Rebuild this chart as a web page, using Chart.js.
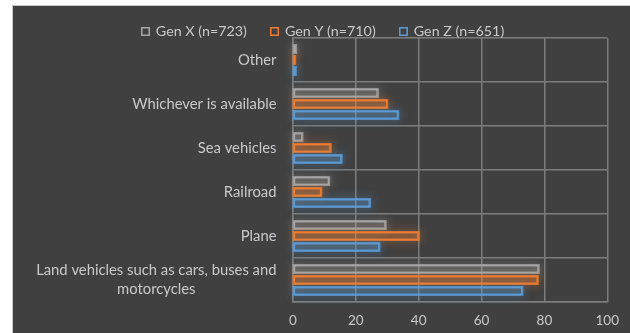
<!DOCTYPE html>
<html>
<head>
<meta charset="utf-8">
<script src="https://cdn.jsdelivr.net/npm/chart.js@4"></script>
<style>
  html, body { margin: 0; padding: 0; background: #ffffff; }
  #frame {
    position: absolute; left: 12px; top: 5px;
    width: 618px; height: 328px;
    background: #404040;
    border-left: 1px solid #c8c8c8; border-top: 1px solid #c8c8c8;
    box-sizing: border-box;
  }
  #chart { display: block; }
</style>
</head>
<body>
<div id="frame"><canvas id="chart" width="617" height="327"></canvas></div>
<script>
// Preferred mode of transport, by generation (percent of respondents)
const categories = [
  'Other',
  'Whichever is available',
  'Sea vehicles',
  'Railroad',
  'Plane',
  ['Land vehicles such as cars, buses and', 'motorcycles']
];
const seriesNames = ['Gen X (n=723)', 'Gen Y (n=710)', 'Gen Z (n=651)'];
const genX = [1, 27, 3, 11.5, 29.5, 78.2];
const genY = [0.7, 30, 12, 9, 40, 77.9];
const genZ = [0.9, 33.5, 15.5, 24.5, 27.5, 73];
const xTicks = [0, 20, 40, 60, 80, 100];

const colors = ['#a5a5a5', '#ed7d31', '#5b9bd5'];
const fills = ['rgba(165,165,165,0.16)', 'rgba(237,125,49,0.28)', 'rgba(91,155,213,0.22)'];
const textColor = '#c9c9c9';
const gridColor = '#7c7c7c';
const FONT = 'Lato, "Liberation Sans", sans-serif';

// soft glow behind each bar, using the bar elements laid out by the chart
const glowPlugin = {
  id: 'glow',
  beforeDatasetsDraw(chart) {
    const ctx = chart.ctx;
    chart.data.datasets.forEach((ds, di) => {
      const meta = chart.getDatasetMeta(di);
      meta.data.forEach(bar => {
        const p = bar.getProps(['x', 'y', 'base', 'height'], true);
        const left = Math.min(p.base, p.x), w = Math.abs(p.x - p.base);
        ctx.save();
        ctx.shadowColor = colors[di];
        ctx.shadowBlur = 8;
        ctx.strokeStyle = colors[di];
        ctx.globalAlpha = 0.8;
        ctx.lineWidth = 2;
        ctx.strokeRect(left, p.y - p.height / 2, w, p.height);
        ctx.restore();
      });
    });
  }
};

// category labels: right-aligned block, wrapped lines centred inside it
const catLabelPlugin = {
  id: 'catLabels',
  afterDraw(chart) {
    const ctx = chart.ctx;
    const ys = chart.scales.y;
    const right = chart.chartArea.left - 16.5;
    const lineH = 19;
    ctx.save();
    ctx.font = '14.8px ' + FONT;
    ctx.fillStyle = textColor;
    ctx.textBaseline = 'middle';
    ctx.textAlign = 'center';
    categories.forEach((lab, i) => {
      const lines = Array.isArray(lab) ? lab : [lab];
      const widest = Math.max(...lines.map(l => ctx.measureText(l).width));
      const cx = right - widest / 2;
      const cy = ys.getPixelForValue(i);
      lines.forEach((l, k) => {
        ctx.fillText(l, cx, cy + (k - (lines.length - 1) / 2) * lineH);
      });
    });
    ctx.restore();
  }
};

// legend row above the plot: hollow squares in series colours
const legendPlugin = {
  id: 'legendRow',
  afterDraw(chart) {
    const ctx = chart.ctx;
    const box = 9, gap = 6, spacing = 23, y = 25;
    ctx.save();
    ctx.font = '14.3px ' + FONT;
    ctx.textBaseline = 'middle';
    ctx.textAlign = 'left';
    const widths = seriesNames.map(n => ctx.measureText(n).width);
    const total = widths.reduce((a, w) => a + box + gap + w, 0) + spacing * (seriesNames.length - 1);
    let x = chart.width / 2 + 1 - total / 2;
    seriesNames.forEach((n, i) => {
      ctx.strokeStyle = colors[i];
      ctx.lineWidth = 1.5;
      ctx.strokeRect(Math.round(x) + 0.75, Math.round(y - box / 2) + 0.75, box - 1.5, box - 1.5);
      ctx.fillStyle = textColor;
      ctx.fillText(n, x + box + gap, y);
      x += box + gap + widths[i] + spacing;
    });
    ctx.restore();
  }
};

const mkSet = (label, data, i) => ({
  label, data,
  backgroundColor: fills[i],
  borderColor: colors[i],
  borderWidth: 1.5,
  borderSkipped: false,
  categoryPercentage: 0.75,
  barPercentage: 0.73
});

new Chart(document.getElementById('chart'), {
  type: 'bar',
  data: {
    labels: categories,
    datasets: [
      mkSet(seriesNames[0], genX, 0),
      mkSet(seriesNames[1], genY, 1),
      mkSet(seriesNames[2], genZ, 2)
    ]
  },
  options: {
    indexAxis: 'y',
    responsive: false,
    animation: false,
    layout: { padding: { top: 32, right: 22, bottom: 3, left: 0 } },
    plugins: {
      tooltip: { enabled: false },
      legend: { display: false }
    },
    scales: {
      x: {
        min: 0, max: 100,
        afterBuildTicks(scale) { scale.ticks = xTicks.map(v => ({ value: v })); },
        afterFit(scale) { scale.height = 28; },
        ticks: { color: textColor, font: { family: FONT, size: 13.5 }, padding: 11 },
        grid: { color: gridColor, lineWidth: 1.5, drawTicks: false },
        border: { color: gridColor, width: 1.5 }
      },
      y: {
        afterFit(scale) { scale.width = 280; },
        ticks: { display: false },
        grid: { color: gridColor, lineWidth: 1.5, offset: true, drawTicks: false },
        border: { color: gridColor, width: 1.5 }
      }
    }
  },
  plugins: [glowPlugin, catLabelPlugin, legendPlugin]
});
</script>
</body>
</html>
